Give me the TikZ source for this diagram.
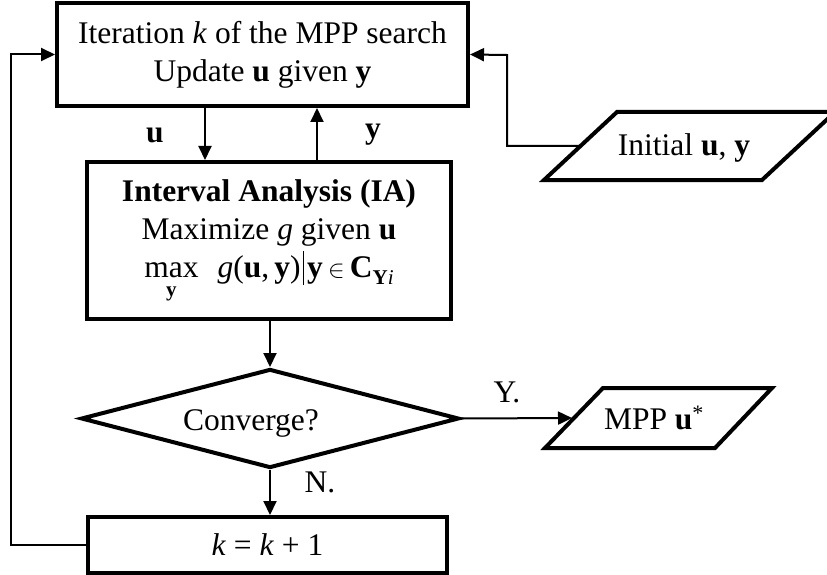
\documentclass[tikz,border=0pt]{standalone}
\usepackage{fontspec}
\setmainfont{Liberation Serif}
\usetikzlibrary{arrows.meta,shapes.geometric}

% "max" with its variable set centred underneath
\newcommand{\maxover}[1]{{\ooalign{max\cr\hfil\raisebox{-19pt}{\fontsize{21}{21}\selectfont\bfseries #1}\hfil\cr}}}

\begin{document}
\begin{tikzpicture}[x=1pt,y=-1pt,
  every node/.style={font=\fontsize{31.5}{38}\selectfont},
  box/.style={draw, line width=4pt, rectangle, align=center, inner sep=0pt},
  conn/.style={line width=2pt, -{Triangle[length=14pt,width=13pt]}},
  io/.style={line width=4pt, line join=miter},
  lbl/.style={inner sep=0pt}]
\useasboundingbox (0,0) rectangle (827,575);

% process boxes
\node[box, minimum width=411pt, minimum height=103pt] (top) at (262.5,54.5)
  {Iteration \textit{k} of the MPP search\\Update \textbf{u} given \textbf{y}};

\node[box, minimum width=364pt, minimum height=157pt] (ia) at (269,240.5)
  {\textbf{Interval Analysis (IA)}\\
   Maximize \textit{g} given \textbf{u}\\
   \maxover{y}\hspace{0.6em}%
   \textit{g}(\textbf{u},\,\textbf{y})\hspace{2pt}\rule[-7pt]{1.4pt}{34pt}\hspace{3pt}%
   \textbf{y}\,\(\in\)\,\textbf{C}\raisebox{-7pt}{\fontsize{21}{21}\selectfont\textbf{Y}\textit{i}}};

% decision
\node[draw, diamond, line width=4pt, aspect=3.8, minimum width=378pt,
      minimum height=99pt, inner sep=0pt] (conv) at (270,418.5) {};
\node[lbl, anchor=base] (convt) at (251,430) {Converge?};

\node[box, minimum width=359pt, minimum height=56pt] (kbox) at (267.5,545)
  {\textit{k} = \textit{k} + 1};

% input / output parallelograms
\draw[io] (544,180) -- (617,112) -- (835,112) -- (762,180) -- cycle;
\node[lbl] (init) at (684,148) {Initial \textbf{u}, \textbf{y}};
\coordinate (initL) at (580.5,146);

\draw[io] (545,448) -- (603,388) -- (772,388) -- (715,448) -- cycle;
\node[lbl] (mpp) at (654,418) {MPP \textbf{u}\textsuperscript{*}};
\coordinate (mppL) at (572,418);

% connector routing points
\coordinate (ux) at (205,0);
\coordinate (yx) at (317,0);
\coordinate (lx) at (11,0);
\coordinate (rj) at (507,55);

% connectors
\draw[conn] (top.south -| ux) -- (ia.north -| ux);
\draw[conn] (ia.north -| yx) -- (top.south -| yx);
\draw[conn] (ia.south -| conv.north) -- (conv.north);
\draw[conn] (conv.south) -- (kbox.north -| conv.south);
\draw[conn] (conv.east) -- (mppL);
\draw[conn] (kbox.west) -- (kbox.west -| lx) |- (top.west);
\draw[conn] (initL) -| (rj) -- (top.east);

% connector labels
\node[lbl] (ul) at (155,135) {\textbf{u}};
\node[lbl] (yl) at (373,135) {\textbf{y}};
\node[lbl] (yes) at (507,392) {Y.};
\node[lbl] (no) at (320,482) {N.};
\end{tikzpicture}
\end{document}
